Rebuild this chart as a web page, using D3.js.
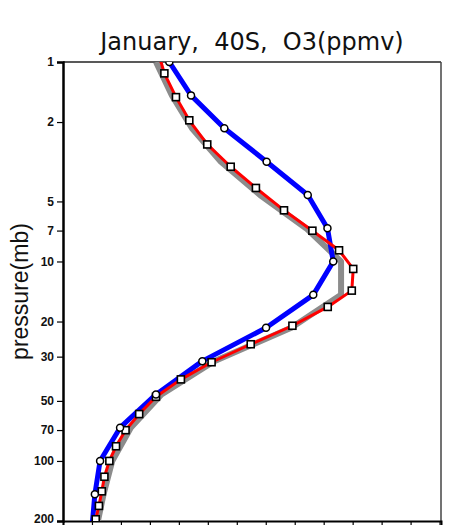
<!DOCTYPE html>
<html lang="en">
<head>
    <meta charset="UTF-8">
    <title>January, 40S, O3(ppmv)</title>
    <script src="https://d3js.org/d3.v7.min.js"></script>
    <style>
        body {
            margin: 0;
            background: #fff;
        }
        svg {
            display: block;
        }
    </style>
</head>
<body>
    <div id="chart"></div>

    <script>
        // pressure levels (mb)
        const stdLevels = [1, 1.47, 2.15, 3.16, 4.64, 6.81, 10, 14.7, 21.5, 31.6, 46.4, 68.1, 100, 147, 215];
        const modelLevels = [0.87, 1.14, 1.50, 1.96, 2.59, 3.35, 4.28, 5.54, 7.01, 8.79, 10.9, 14.0, 16.9,
            21.0, 26.0, 32.0, 39.0, 47.7, 58.2, 70.1, 84.4, 100, 120, 142, 168, 196];

        // O3 (ppmv)
        const blueO3 = [3.67, 4.42, 5.57, 7.03, 8.45, 9.13, 9.33, 8.64, 7.01, 4.81, 3.21, 1.97, 1.28, 1.10, 1.00];
        const redO3 = [3.26, 3.50, 3.90, 4.36, 4.98, 5.79, 6.66, 7.63, 8.61, 9.53, 10.02, 9.97, 9.14,
            7.92, 6.48, 5.13, 4.07, 3.21, 2.63, 2.16, 1.83, 1.60, 1.43, 1.34, 1.24, 1.13];
        const grayO3 = [3.21, 3.76, 4.45, 5.45, 6.80, 8.39, 9.60, 9.60, 7.88, 5.22, 3.40, 2.34, 1.70, 1.40, 1.16];

        const pressureTicks = [1, 2, 5, 7, 10, 20, 30, 50, 70, 100, 200];
        const o3Ticks = d3.range(0, 14);

        const W = 450, H = 525;
        const margin = { top: 62, right: 9, bottom: 4, left: 63 };

        const svg = d3.select("#chart")
            .append("svg")
            .attr("width", W)
            .attr("height", H);

        const x = d3.scaleLinear().domain([0, 13.05]).range([margin.left, W - margin.right]);
        const y = d3.scaleLog().domain([1, 200]).range([margin.top, H - margin.bottom]);

        svg.append("defs").append("clipPath").attr("id", "plot")
            .append("rect")
            .attr("x", x(0)).attr("y", y(1))
            .attr("width", x(13.05) - x(0)).attr("height", y(200) - y(1));

        // frame (top and right)
        svg.append("line")
            .attr("x1", x(0)).attr("x2", x(13.05))
            .attr("y1", y(1)).attr("y2", y(1))
            .attr("stroke", "#222").attr("stroke-width", 1.5);
        svg.append("line")
            .attr("x1", x(13.05)).attr("x2", x(13.05))
            .attr("y1", y(1)).attr("y2", y(200))
            .attr("stroke", "#444").attr("stroke-width", 1.5);

        // bottom axis, labels are off the picture
        svg.append("g")
            .attr("transform", `translate(0, ${y(200)})`)
            .call(d3.axisBottom(x).tickValues(o3Ticks).tickSize(5).tickFormat(""))
            .call(g => g.select(".domain").attr("stroke-width", 2))
            .call(g => g.selectAll(".tick line").attr("stroke-width", 1.2));

        // left axis
        svg.append("g")
            .attr("transform", `translate(${x(0)}, 0)`)
            .call(d3.axisLeft(y).tickValues(pressureTicks).tickSize(6).tickPadding(3)
                .tickFormat(d3.format("d")))
            .call(g => g.select(".domain").attr("stroke-width", 2.5))
            .call(g => g.selectAll(".tick line").attr("stroke-width", 1.2))
            .call(g => g.selectAll(".tick text")
                .attr("font-family", "Liberation Sans, Arial, sans-serif")
                .attr("font-size", 12)
                .attr("font-weight", "bold")
                .attr("fill", "#111"))
            .call(g => g.selectAll(".tick text").filter(d => d === 200).attr("dy", "0.1em"));

        const line = d3.line()
            .x(d => x(d[1]))
            .y(d => y(d[0]));

        const zip = (ps, vs) => ps.map((p, i) => [p, vs[i]]);
        const blue = zip(stdLevels, blueO3);
        const red = zip(modelLevels, redO3);
        const gray = zip(stdLevels, grayO3);

        const plot = svg.append("g").attr("clip-path", "url(#plot)");

        plot.append("path").datum(gray)
            .attr("d", line).attr("fill", "none")
            .attr("stroke", "#8c8c8c").attr("stroke-width", 6)
            .attr("stroke-linejoin", "round");

        plot.append("path").datum(blue)
            .attr("d", line).attr("fill", "none")
            .attr("stroke", "#0000ff").attr("stroke-width", 5)
            .attr("stroke-linejoin", "round");

        plot.append("path").datum(red)
            .attr("d", line).attr("fill", "none")
            .attr("stroke", "#ff0000").attr("stroke-width", 3)
            .attr("stroke-linejoin", "round");

        // markers
        plot.selectAll(".sq")
            .data(red.filter(d => d[0] >= 1 && d[0] <= 200))
            .enter()
            .append("rect")
            .attr("class", "sq")
            .attr("x", d => x(d[1]) - 3.5)
            .attr("y", d => y(d[0]) - 3.5)
            .attr("width", 7).attr("height", 7)
            .attr("fill", "#fff").attr("stroke", "#000").attr("stroke-width", 1.6);

        plot.selectAll(".dot")
            .data(blue.filter(d => d[0] <= 200))
            .enter()
            .append("circle")
            .attr("class", "dot")
            .attr("cx", d => x(d[1]))
            .attr("cy", d => y(d[0]))
            .attr("r", 3.5)
            .attr("fill", "#fff").attr("stroke", "#000").attr("stroke-width", 1.5);

        // title
        svg.append("text")
            .attr("x", (x(0) + x(13.05)) / 2)
            .attr("y", 50)
            .attr("text-anchor", "middle")
            .attr("font-family", "DejaVu Sans, sans-serif")
            .attr("font-size", 24)
            .attr("fill", "#111")
            .attr("xml:space", "preserve")
            .text("January,  40S,  O3(ppmv)");

        // y label
        svg.append("text")
            .attr("transform", `translate(28, ${(y(1) + y(200)) / 2}) rotate(-90)`)
            .attr("text-anchor", "middle")
            .attr("font-family", "Liberation Sans, Arial, sans-serif")
            .attr("font-size", 23)
            .attr("fill", "#111")
            .text("pressure(mb)");
    </script>
</body>
</html>
